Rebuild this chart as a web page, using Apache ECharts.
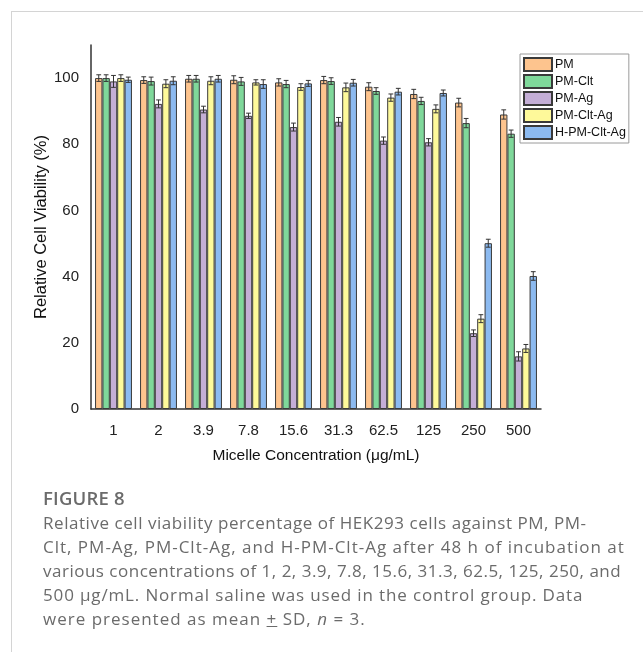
<!DOCTYPE html>
<html>
<head>
<meta charset="utf-8">
<script src="https://cdn.jsdelivr.net/npm/echarts@6/dist/echarts.min.js"></script>
<style>
html,body{margin:0;padding:0;background:#fff;width:643px;height:652px;overflow:hidden;}
#frame{position:absolute;left:11px;top:11px;width:700px;height:700px;border-left:1.5px solid #d4d4d4;border-top:1.5px solid #d4d4d4;}
#chart{position:absolute;left:0;top:0;width:643px;height:652px;}
#cap{position:absolute;left:43px;top:483px;font-family:"Open Sans",sans-serif;color:#6b6b6b;}
#cap .fig{font-size:18.5px;font-weight:600;line-height:30px;letter-spacing:0.2px;}
#cap .txt{font-size:17px;line-height:24px;white-space:nowrap;margin-top:-2px;}
#cap .l1{letter-spacing:0.55px;}
#cap .l2{letter-spacing:1.0px;}
#cap .l3{letter-spacing:0.5px;}
#cap .l4{letter-spacing:0.85px;}
#cap .l5{letter-spacing:1.0px;}
</style>
</head>
<body>
<div id="frame"></div>
<div id="chart"></div>
<div id="cap">
<div class="fig">FIGURE 8</div>
<div class="txt"><div class="l1">Relative cell viability percentage of HEK293 cells against PM, PM-</div><div class="l2">Clt, PM-Ag, PM-Clt-Ag, and H-PM-Clt-Ag after 48 h of incubation at</div><div class="l3">various concentrations of 1, 2, 3.9, 7.8, 15.6, 31.3, 62.5, 125, 250, and</div><div class="l4">500 μg/mL. Normal saline was used in the control group. Data</div><div class="l5">were presented as mean <u>+</u> SD, <i>n</i> = 3.</div></div>
</div>
<script>
const categories = ['1','2','3.9','7.8','15.6','31.3','62.5','125','250','500'];
const seriesNames = ['PM','PM-Clt','PM-Ag','PM-Clt-Ag','H-PM-Clt-Ag'];
const pm       = [100, 99.4, 99.8, 99.5, 98.7, 99.4, 97.4, 95.2, 92.6, 89.0];
const pmClt    = [100, 99.1, 99.8, 99.0, 98.2, 99.1, 96.1, 93.1, 86.4, 83.2];
const pmAg     = [99.0, 92.2, 90.5, 88.6, 85.2, 86.8, 81.1, 80.6, 22.9, 15.9];
const pmCltAg  = [100, 98.3, 99.2, 98.7, 97.3, 97.2, 94.1, 90.7, 27.3, 18.3];
const hPmCltAg = [99.5, 99.2, 99.8, 98.2, 98.4, 98.6, 95.9, 95.5, 50.1, 40.2];
const pmSd       = [1.0, 1.0, 1.0, 1.2, 1.1, 1.1, 1.2, 1.4, 1.3, 1.4];
const pmCltSd    = [1.0, 1.2, 1.0, 1.2, 1.1, 1.0, 1.0, 1.1, 1.4, 1.1];
const pmAgSd     = [1.8, 1.2, 1.0, 0.8, 1.2, 1.3, 1.1, 1.1, 1.0, 1.4];
const pmCltAgSd  = [1.0, 1.2, 1.2, 0.8, 1.0, 1.3, 1.1, 1.2, 1.2, 1.2];
const hPmCltAgSd = [0.8, 1.2, 1.0, 1.3, 0.9, 1.0, 1.0, 0.9, 1.2, 1.3];
const yTicks = [0, 20, 40, 60, 80, 100];
const colors = ['#fdc48e', '#7fd89a', '#c4aed6', '#fef99a', '#8cbaf0'];

const values = [pm, pmClt, pmAg, pmCltAg, hPmCltAg];
const sds = [pmSd, pmCltSd, pmAgSd, pmCltAgSd, hPmCltAgSd];
const GAP = 0.18;
const font = '"Liberation Sans", Arial, sans-serif';

const series = [];
values.forEach((vals, i) => {
  series.push({
    name: seriesNames[i], type: 'bar', data: vals,
    barGap: '0%', barCategoryGap: (GAP*100)+'%',
    itemStyle: {color: colors[i], borderColor: '#3a3a3a', borderWidth: 1},
    emphasis: {disabled: true}
  });
});
values.forEach((vals, i) => {
  series.push({
    type: 'custom', silent: true, z: 5,
    data: vals.map((v, k) => [k, v, sds[i][k]]),
    renderItem: function (params, api) {
      const k = api.value(0), v = api.value(1), e = api.value(2);
      const band = api.size([1, 0])[0];
      const groupW = band * (1 - GAP);
      const bw = groupW / 5;
      const c = api.coord([k, v]);
      const x = c[0] - groupW / 2 + bw * (i + 0.5);
      const yHi = api.coord([k, v + e])[1];
      const yLo = api.coord([k, v - e])[1];
      const cw = 2.4;
      const st = {stroke: '#333', lineWidth: 1};
      return {type: 'group', children: [
        {type: 'line', shape: {x1: x, y1: yHi, x2: x, y2: yLo}, style: st},
        {type: 'line', shape: {x1: x - cw, y1: yHi, x2: x + cw, y2: yHi}, style: st},
        {type: 'line', shape: {x1: x - cw, y1: yLo, x2: x + cw, y2: yLo}, style: st}
      ]};
    }
  });
});

const chart = echarts.init(document.getElementById('chart'), null, {renderer: 'canvas'});
chart.setOption({
  animation: false,
  backgroundColor: 'transparent',
  grid: {left: 91, top: 45, right: 102, bottom: 243, containLabel: false},
  legend: {
    data: seriesNames, orient: 'vertical', left: 520, top: 54,
    icon: 'rect', itemWidth: 28, itemHeight: 13, itemGap: 2,
    padding: [3, 3, 3, 3], borderColor: '#9a9a9a', borderWidth: 1,
    textStyle: {fontFamily: font, fontSize: 12.5, color: '#111', padding: [0, 0, 0, -2]},
    selectedMode: false
  },
  xAxis: {
    type: 'category', data: categories,
    name: 'Micelle Concentration (μg/mL)', nameLocation: 'middle', nameGap: 39,
    nameMoveOverlap: false,
    nameTextStyle: {fontFamily: font, fontSize: 15.5, color: '#111'},
    axisLine: {lineStyle: {color: '#333', width: 1.5}},
    axisTick: {show: false},
    axisLabel: {fontFamily: font, fontSize: 15, color: '#222', margin: 14}
  },
  yAxis: {
    type: 'value', min: 0, max: 110, interval: 20,
    name: 'Relative Cell Viability (%)', nameLocation: 'middle', nameGap: 41,
    nameMoveOverlap: false,
    nameTextStyle: {fontFamily: font, fontSize: 16.5, color: '#111'},
    axisLine: {show: true, lineStyle: {color: '#333', width: 1.5}},
    axisTick: {show: false},
    splitLine: {show: false},
    axisLabel: {fontFamily: font, fontSize: 15, color: '#222', margin: 12,
      formatter: v => yTicks.indexOf(v) >= 0 ? String(v) : ''}
  },
  series: series
});
</script>
</body>
</html>
